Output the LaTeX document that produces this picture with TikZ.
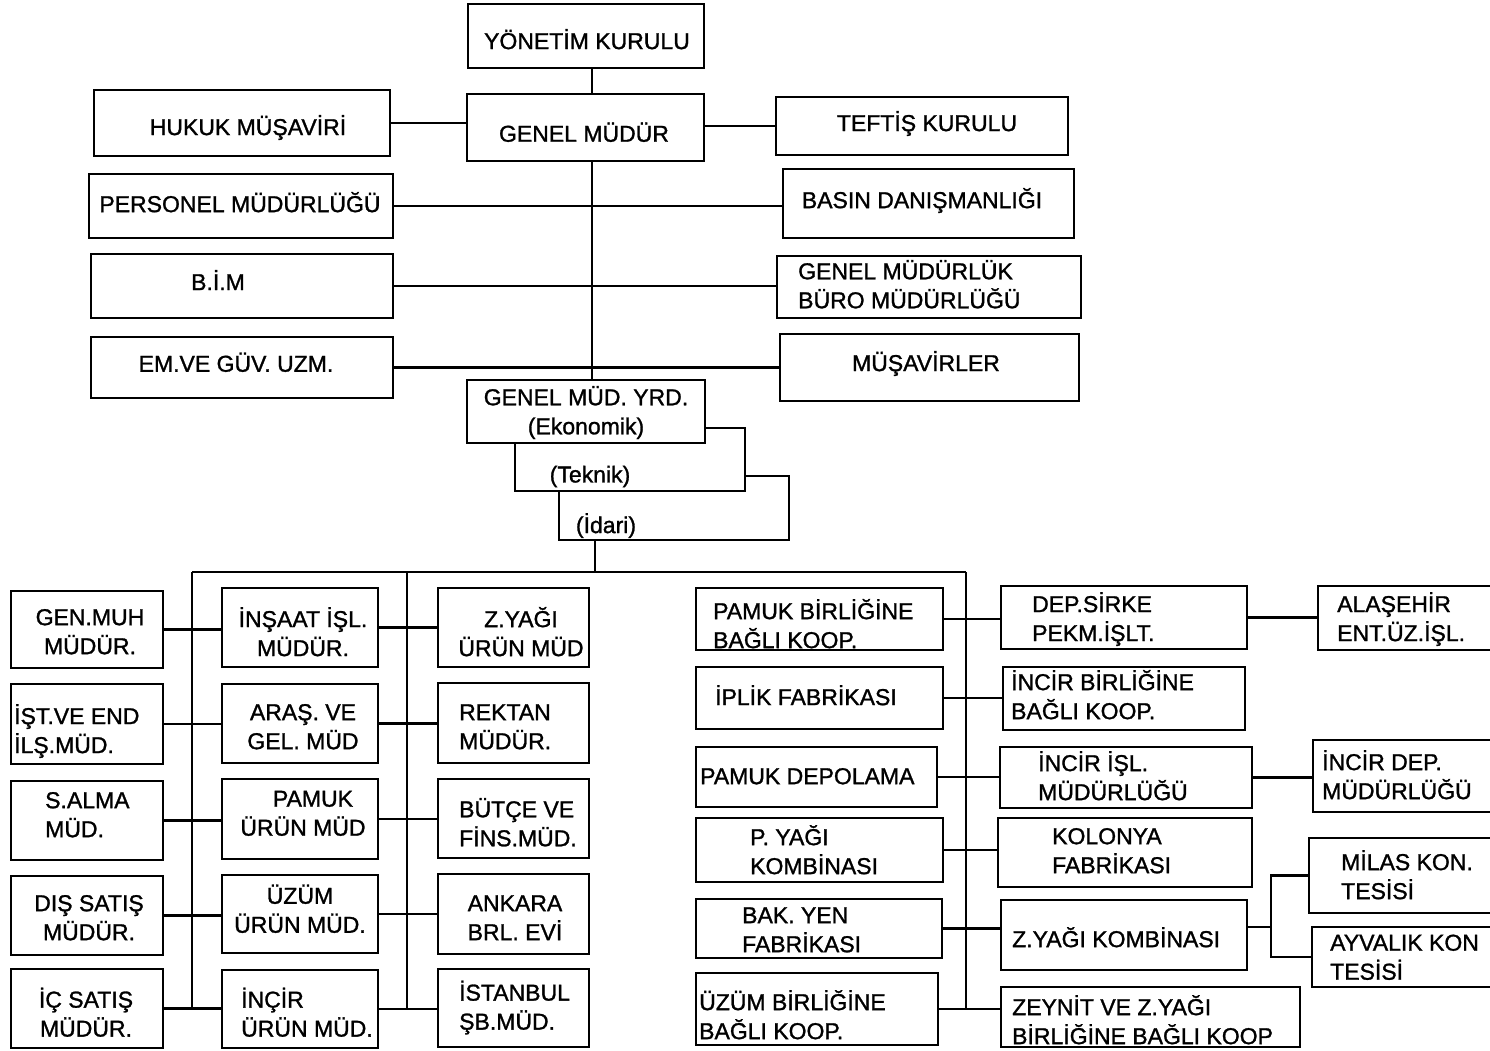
\documentclass[tikz,border=0pt]{standalone}
\usepackage{fontspec}
\setmainfont{Liberation Sans}
\newfontface\lab{Liberation Sans}[FakeBold=1.2]
% uniform line height so that text nodes centre on the capitals
\newcommand\ls{\rule[-5.75pt]{0pt}{21.85pt}}
\newcommand\one[1]{\ls #1}
\newcommand\two[2]{\ls #1\\\ls #2}
% a box given by its corners (x1,y1) and (x2,y2)
\newcommand\bx[5]{\node[box, minimum width={(#4-#2)*1pt}, minimum height={(#5-#3)*1pt}] (#1) at ({(#2+#4)/2},{(#3+#5)/2}) {};}
\begin{document}
\begin{tikzpicture}[x=1pt,y=-1pt,
  box/.style={draw, line width=2.6pt, fill=white, inner sep=0pt, anchor=center},
  txt/.style={inner sep=0pt, font=\lab\fontsize{23}{29}\selectfont},
  txl/.style={txt, anchor=west, align=left},
  txc/.style={txt, anchor=center, align=center},
  link/.style={line width=2.8pt},
  spine/.style={line width=2pt}]
\useasboundingbox (0,0) rectangle (1490,1051);

% ---- head office ----
\bx{yon}{468}{4}{704}{68}
\bx{gm}{467}{94}{704}{161}
\bx{huk}{94}{90}{390}{156}
\bx{tef}{776}{97}{1068}{155}
\bx{per}{89}{174}{393}{238}
\bx{bas}{783}{169}{1074}{238}
\bx{bim}{91}{254}{393}{318}
\bx{gmb}{777}{256}{1081}{318}
\bx{emv}{91}{337}{393}{398}
\bx{mus}{780}{334}{1079}{401}

\node[txc] (yon-t) at (587,42) {\one{YÖNETİM KURULU}};
\node[txc] (gm-t) at (584,135) {\one{GENEL MÜDÜR}};
\node[txc] (huk-t) at (248,128) {\one{HUKUK MÜŞAVİRİ}};
\node[txc] (tef-t) at (927,124) {\one{TEFTİŞ KURULU}};
\node[txc] (per-t) at (240,205) {\one{PERSONEL MÜDÜRLÜĞÜ}};
\node[txc] (bas-t) at (922,201) {\one{BASIN DANIŞMANLIĞI}};
\node[txc] (bim-t) at (218,283) {\one{B.İ.M}};
\node[txl] (gmb-t) at (798,287) {\two{GENEL MÜDÜRLÜK}{BÜRO MÜDÜRLÜĞÜ}};
\node[txc] (emv-t) at (236,365) {\one{EM.VE GÜV. UZM.}};
\node[txc] (mus-t) at (926,364) {\one{MÜŞAVİRLER}};

% ---- assistant general managers (stacked boxes) ----
\bx{ida}{559}{476}{789}{540}
\bx{tek}{515}{428}{745}{491}
\bx{yrd}{467}{380}{705}{443}
\node[txc] (yrd-t) at (586,413) {\two{GENEL MÜD. YRD.}{(Ekonomik)}};
\node[txc] (tek-t) at (590,477) {\one{(Teknik)}};
\node[txc] (ida-t) at (606,526) {\one{(İdari)}};

% ---- connectors of the head office ----
\coordinate (sp) at (592,0);
\draw[spine] (yon.south -| sp) -- (gm.north -| sp);
\draw[spine] (gm.south -| sp) -- (yrd.north -| sp);
\draw[link] (huk.east) -- (huk.east -| gm.west);
\draw[link] (tef.west) -- (tef.west -| gm.east);
\draw[link] (per.east) -- (per.east -| bas.west);
\draw[link] (bim.east) -- (bim.east -| gmb.west);
\draw[link] (emv.east) -- (emv.east -| mus.west);

% ---- main bus ----
\coordinate (busL) at (192,572);
\coordinate (busM) at (407,572);
\coordinate (busR) at (966,572);
\coordinate (dn) at (595,0);
\draw[spine] (ida.south -| dn) -- (busL -| dn);
\draw[link] (busL) -- (busR);

% ---- left group ----
\bx{gen}{11}{591}{163}{668}
\bx{ist}{11}{684}{163}{764}
\bx{sal}{11}{781}{163}{860}
\bx{dis}{11}{876}{163}{955}
\bx{ics}{11}{969}{163}{1048}
\bx{ins}{222}{588}{378}{667}
\bx{ara}{222}{684}{378}{763}
\bx{pam}{222}{779}{378}{859}
\bx{uzu}{222}{875}{378}{953}
\bx{inc}{222}{970}{378}{1048}
\bx{zya}{438}{588}{589}{667}
\bx{rek}{438}{683}{589}{763}
\bx{but}{438}{779}{589}{858}
\bx{ank}{438}{874}{589}{954}
\bx{isb}{438}{969}{589}{1047}

\node[txc] (gen-t) at (90,634.5) {\two{GEN.MUH}{MÜDÜR.}};
\node[txl] (ist-t) at (14,731.5) {\two{İŞT.VE END}{İLŞ.MÜD.}};
\node[txl] (sal-t) at (45,817.5) {\two{S.ALMA}{MÜD.}};
\node[txc] (dis-t) at (89,920.5) {\two{DIŞ SATIŞ}{MÜDÜR.}};
\node[txc] (ics-t) at (86,1015) {\two{İÇ SATIŞ}{MÜDÜR.}};
\node[txc] (ins-t) at (303,634.5) {\two{İNŞAAT İŞL.}{MÜDÜR.}};
\node[txc] (ara-t) at (303,729.5) {\two{ARAŞ. VE}{GEL. MÜD}};
\node[txc] (pam-t) at (303,816) {\two{\hspace*{20pt}PAMUK}{ÜRÜN MÜD}};
\node[txc] (uzu-t) at (300,911.5) {\two{ÜZÜM}{ÜRÜN MÜD.}};
\node[txl] (inc-t) at (241,1015) {\two{İNÇİR}{ÜRÜN MÜD.}};
\node[txc] (zya-t) at (521,634.5) {\two{Z.YAĞI}{ÜRÜN MÜD}};
\node[txl] (rek-t) at (459,729.5) {\two{REKTAN}{MÜDÜR.}};
\node[txl] (but-t) at (459,825) {\two{BÜTÇE VE}{FİNS.MÜD.}};
\node[txc] (ank-t) at (515,920.5) {\two{ANKARA}{BRL. EVİ}};
\node[txl] (isb-t) at (459,1008) {\two{İSTANBUL}{ŞB.MÜD.}};

\draw[link] (busL) -- (busL |- ics.east);
\draw[link] (busM) -- (busM |- inc.east);
\foreach \a/\b in {gen/ins, ist/ara, sal/pam, dis/uzu, ics/inc,
                   ins/zya, ara/rek, pam/but, uzu/ank, inc/isb}
  \draw[link] (\a.east) -- (\a.east -| \b.west);

% ---- right group ----
\bx{pbk}{696}{588}{943}{650}
\bx{ipl}{696}{667}{943}{729}
\bx{pdp}{696}{747}{937}{807}
\bx{pyg}{696}{818}{943}{882}
\bx{bak}{696}{899}{942}{958}
\bx{uzb}{696}{973}{938}{1045}
\bx{dep}{1001}{586}{1247}{649}
\bx{inb}{1003}{667}{1245}{730}
\bx{ini}{1000}{747}{1252}{808}
\bx{kol}{998}{818}{1252}{887}
\bx{zyk}{1001}{900}{1247}{970}
\bx{zey}{1001}{987}{1300}{1047}
\bx{ala}{1318}{586}{1496}{650}
\bx{idp}{1313}{740}{1496}{812}
\bx{mil}{1309}{838}{1496}{913}
\bx{ayv}{1312}{927}{1496}{987}

\node[txl] (pbk-t) at (713,626.5) {\two{PAMUK BİRLİĞİNE}{BAĞLI KOOP.}};
\node[txl] (ipl-t) at (715,698) {\one{İPLİK FABRİKASI}};
\node[txl] (pdp-t) at (700,779) {\one{PAMUK DEPOLAMA}};
\node[txl] (pyg-t) at (750,852.5) {\two{P. YAĞI}{KOMBİNASI}};
\node[txl] (bak-t) at (742,932.5) {\two{BAK. YEN}{FABRİKASI}};
\node[txl] (uzb-t) at (699,1017.5) {\two{ÜZÜM BİRLİĞİNE}{BAĞLI KOOP.}};
\node[txl] (dep-t) at (1032,619.5) {\two{DEP.SİRKE}{PEKM.İŞLT.}};
\node[txl] (inb-t) at (1011,697.5) {\two{İNCİR BİRLİĞİNE}{BAĞLI KOOP.}};
\node[txl] (ini-t) at (1038,778.5) {\two{İNCİR İŞL.}{MÜDÜRLÜĞÜ}};
\node[txl] (kol-t) at (1052,853.5) {\two{KOLONYA}{FABRİKASI}};
\node[txl] (zyk-t) at (1012,940) {\one{Z.YAĞI KOMBİNASI}};
\node[txl] (zey-t) at (1012,1022.5) {\two{ZEYNİT VE Z.YAĞI}{BİRLİĞİNE BAĞLI KOOP}};
\node[txl] (ala-t) at (1337,619.5) {\two{ALAŞEHİR}{ENT.ÜZ.İŞL.}};
\node[txl] (idp-t) at (1322,777.5) {\two{İNCİR DEP.}{MÜDÜRLÜĞÜ}};
\node[txl] (mil-t) at (1341,877.5) {\two{MİLAS KON.}{TESİSİ}};
\node[txl] (ayv-t) at (1330,960) {\two{AYVALIK KON}{TESİSİ}};

\draw[link] (busR) -- (busR |- uzb.east);
\foreach \a/\b in {pbk/dep, ipl/inb, pdp/ini, pyg/kol, bak/zyk, uzb/zey}
  \draw[link] (\a.east) -- (\a.east -| \b.west);
\draw[link] (dep.east) -- (dep.east -| ala.west);
\draw[link] (ini.east) -- (ini.east -| idp.west);
\coordinate (brx) at (1271,0);
\draw[link] ([yshift=8pt]zyk.east) -- ([yshift=8pt]zyk.east -| brx);
\draw[link] (mil.west) -- (mil.west -| brx) -- (ayv.west -| brx) -- (ayv.west);
\end{tikzpicture}
\end{document}
